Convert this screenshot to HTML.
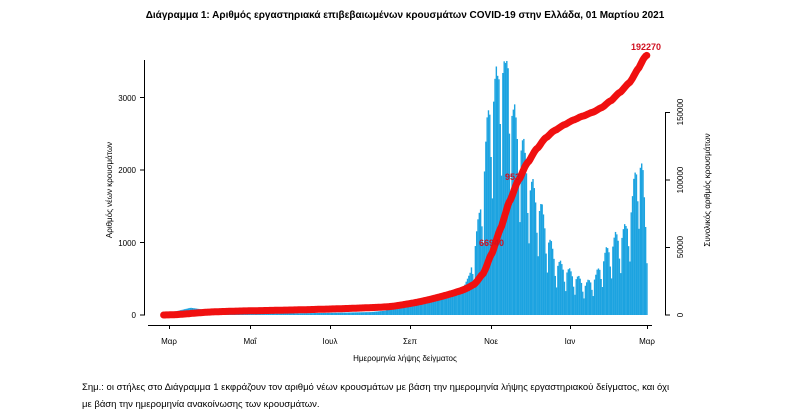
<!DOCTYPE html>
<html><head><meta charset="utf-8"><style>
body{margin:0;background:#fff;width:810px;height:409px;overflow:hidden;font-family:"Liberation Sans",sans-serif}
svg{position:absolute;left:0;top:0}
</style></head><body>
<svg id="s" width="810" height="409" xmlns="http://www.w3.org/2000/svg" font-family="Liberation Sans, sans-serif">
<text x="405" y="18" text-anchor="middle" font-size="10" font-weight="bold">Διάγραμμα 1: Αριθμός εργαστηριακά επιβεβαιωμένων κρουσμάτων COVID-19 στην Ελλάδα, 01 Μαρτίου 2021</text>
<g id="bars" fill="#1ca3e0"></g>
<g stroke="#000" stroke-width="1" fill="none">
<path d="M144.5 60 V315 M140 315h5 M140 242.5h5 M140 170h5 M140 97.5h5"/>
<path d="M148 325.5 H652 M169.5 325v4 M250.5 325v4 M330.5 325v4 M410.5 325v4 M491.5 325v4 M570.5 325v4 M647.5 325v4"/>
<path d="M665.5 112 V315 M665 315h5 M665 247.5h5 M665 180h5 M665 112.5h5"/>
</g>
<g font-size="8" text-anchor="end">
<text x="136" y="318">0</text><text x="136" y="246">1000</text><text x="136" y="173">2000</text><text x="136" y="101">3000</text>
</g>
<g font-size="8" text-anchor="middle">
<text x="169" y="344">Μαρ</text><text x="250" y="344">Μαΐ</text><text x="330" y="344">Ιουλ</text><text x="410" y="344">Σεπ</text><text x="491" y="344">Νοε</text><text x="570" y="344">Ιαν</text><text x="647" y="344">Μαρ</text>
<text x="405" y="361">Ημερομηνία λήψης δείγματος</text>
<text transform="translate(112,190) rotate(-90)">Αριθμός νέων κρουσμάτων</text>
<text transform="translate(710,190) rotate(-90)">Συνολικός αριθμός κρουσμάτων</text>
<text transform="translate(683,315) rotate(-90)">0</text>
<text transform="translate(683,247) rotate(-90)">50000</text>
<text transform="translate(683,180) rotate(-90)">100000</text>
<text transform="translate(683,112) rotate(-90)">150000</text>
</g>
<path id="cum" fill="none" stroke="#f01010" stroke-width="7" stroke-linecap="round" stroke-linejoin="round"/>
<g font-size="9" font-weight="bold" fill="#d01020">
<text x="631" y="50">192270</text><text x="505" y="180">953</text><text x="479" y="246">66940</text>
</g>
<g font-size="9.5" fill="#000">
<text x="82" y="390">Σημ.: οι στήλες στο Διάγραμμα 1 εκφράζουν τον αριθμό νέων κρουσμάτων με βάση την ημερομηνία λήψης εργαστηριακού δείγματος, και όχι</text>
<text x="82" y="407">με βάση την ημερομηνία ανακοίνωσης των κρουσμάτων.</text>
</g>
</svg>
<script>
var k=[[163,10],[175,50],[190,100],[200,80],[215,40],[250,20],[280,20],[330,30],[370,40],[385,60],[395,150],[410,180],[430,250],[450,300],[462,350],[470,600],[478,1200],[484,2000],[490,2900],[497,3000],[500,3600],[505,3000],[508,3500],[512,2600],[520,2300],[530,1700],[540,1400],[548,1000],[555,700],[565,600],[575,500],[585,400],[595,500],[605,800],[615,1000],[625,1100],[632,1500],[638,2200],[642,1800],[647,800]];
function f(x){for(var i=1;i<k.length;i++){if(x<=k[i][0]){var a=k[i-1],b=k[i],t=(x-a[0])/(b[0]-a[0]);return a[1]+t*(b[1]-a[1]);}}return 800;}
var wk=[1,1.1,1.15,1.1,1,0.75,0.55],ns="http://www.w3.org/2000/svg",g=document.getElementById('bars');
var step=478/365,vals=[],xs=[];
for(var d=0;;d++){var x=163+d*step;if(x>647.5)break;var v=f(x)*(x>470?wk[d%7]:1);vals.push(v);xs.push(x);
var r=document.createElementNS(ns,'rect');var h=v*72.5/1000;r.setAttribute('x',x.toFixed(2));r.setAttribute('width',(step+0.1).toFixed(2));r.setAttribute('y',(315-h).toFixed(2));r.setAttribute('height',h.toFixed(2));g.appendChild(r);}
var tot=vals.reduce(function(a,b){return a+b},0),c=0,p='';
for(var i=0;i<vals.length;i++){c+=vals[i];var y=315-(c/tot*192270)*67.5/50000;p+=(i?'L':'M')+(xs[i]+0.6).toFixed(1)+' '+y.toFixed(1);}
document.getElementById('cum').setAttribute('d',p);
</script>
</body></html>
